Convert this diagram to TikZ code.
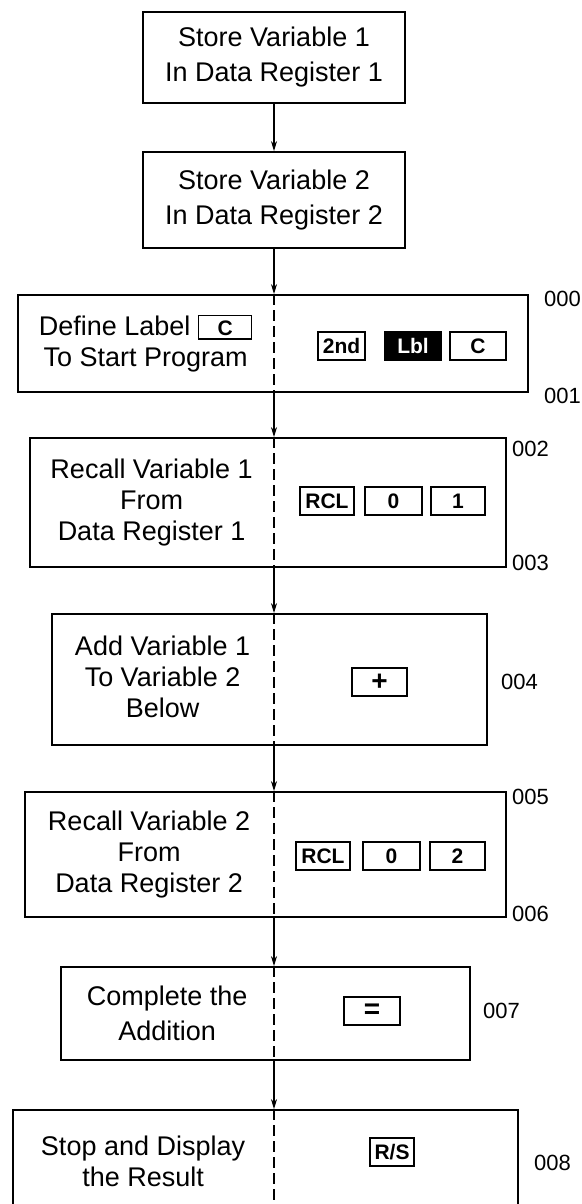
\documentclass[tikz,border=0pt]{standalone}
\usepackage{fontspec}
\setmainfont{Liberation Sans}
\usetikzlibrary{arrows.meta,calc}

% inline key cap used inside running text
\newcommand{\inlinekey}[1]{{\setlength{\fboxrule}{1.2pt}\setlength{\fboxsep}{0pt}%
  \raisebox{-3pt}{\fbox{\rule[0pt]{0pt}{22pt}\makebox[52pt]{\raisebox{3pt}{\fontsize{21}{21}\bfseries #1}}}}}}

\begin{document}
\begin{tikzpicture}[x=1pt,y=-1pt,
  box/.style={draw, line width=1.8pt, inner sep=0pt},
  txt/.style={align=center, inner sep=0pt, font=\fontsize{27}{31}\selectfont},
  wide/.style={font=\fontsize{27}{35}\selectfont},
  keycap/.style={draw, line width=1.2pt, inner sep=0pt, minimum height=28pt,
                 font=\fontsize{21}{21}\bfseries\selectfont},
  blackkey/.style={keycap, fill=black, text=white},
  bigsign/.style={font=\fontsize{28}{28}\bfseries\selectfont},
  num/.style={anchor=west, inner sep=0pt, font=\fontsize{22}{22}\selectfont},
  flow/.style={line width=1.3pt, -{Stealth[length=10pt,width=6pt]}},
  split/.style={line width=1.3pt, dash pattern=on 11pt off 5pt}
]
\useasboundingbox (0,0) rectangle (581,1204);
\fill[white] (0,0) rectangle (581,1204);

\coordinate (spine) at (274,0);

% boxes
\node[box, txt, wide, minimum width=262pt, minimum height=91pt] (b1) at (274,57.5)
  {Store Variable 1\\In Data Register 1};
\node[box, txt, wide, minimum width=262pt, minimum height=96pt] (b2) at (274,200)
  {Store Variable 2\\In Data Register 2};
\node[box, minimum width=510pt, minimum height=97pt]  (b3) at (273,343.5) {};
\node[box, minimum width=476pt, minimum height=129pt] (b4) at (268,502.5) {};
\node[box, minimum width=435pt, minimum height=131pt] (b5) at (269.5,679.5) {};
\node[box, minimum width=481pt, minimum height=125pt] (b6) at (265.5,854.5) {};
\node[box, minimum width=409pt, minimum height=93pt]  (b7) at (265.5,1013.5) {};
\node[box, minimum width=505pt, minimum height=105pt] (b8) at (265.5,1162.5) {};

% dashed split lines
\foreach \b in {b3,b4,b5,b6,b7,b8}
  \draw[split] (\b.north -| spine) -- (\b.south -| spine);

% connectors
\draw[flow] (b1.south) -- (b2.north);
\draw[flow] (b2.south -| spine) -- (b3.north -| spine);
\draw[flow] (b3.south -| spine) -- (b4.north -| spine);
\draw[flow] (b4.south -| spine) -- (b5.north -| spine);
\draw[flow] (b5.south -| spine) -- (b6.north -| spine);
\draw[flow] (b6.south -| spine) -- (b7.north -| spine);
\draw[flow] (b7.south -| spine) -- (b8.north -| spine);

% left-hand descriptions
\node[txt] (t3) at ($(b3.west)!0.5!(b3.center -| spine)$) {Define Label \inlinekey{C}\\To Start Program};
\node[txt] (t4) at ($(b4.west)!0.5!(b4.center -| spine)$) {Recall Variable 1\\From\\Data Register 1};
\node[txt] (t5) at ($(b5.west)!0.5!(b5.center -| spine)+(0,-3)$) {Add Variable 1\\To Variable 2\\Below};
\node[txt] (t6) at ($(b6.west)!0.5!(b6.center -| spine)$) {Recall Variable 2\\From\\Data Register 2};
\node[txt, wide] (t7) at ($(b7.west)!0.5!(b7.center -| spine)$) {Complete the\\Addition};
\node[txt] (t8) at ($(b8.west)!0.5!(b8.center -| spine)+(0,-1)$) {Stop and Display\\the Result};

% key sequences
\node[keycap, minimum width=47pt] (k31) at (341.5,346) {2nd};
\node[blackkey, minimum width=56pt] (k32) at (413,346) {Lbl};
\node[keycap, minimum width=56pt] (k33) at (478,346) {C};

\node[keycap, minimum width=54pt] (k41) at (327,501) {RCL};
\node[keycap, minimum width=57pt] (k42) at (393.5,501) {0};
\node[keycap, minimum width=54pt] (k43) at (458,501) {1};

\node[keycap, bigsign, minimum width=55pt] (k51) at (379.5,682) {+};

\node[keycap, minimum width=54pt] (k61) at (323,856) {RCL};
\node[keycap, minimum width=57pt] (k62) at (391.5,856) {0};
\node[keycap, minimum width=55pt] (k63) at (457.5,856) {2};

\node[keycap, bigsign, minimum width=56pt] (k71) at (372,1011) {=};

\node[keycap, minimum width=44pt] (k81) at (392,1152) {R/S};

% step numbers
\node[num] (n000) at ($(b3.north east)+(15,5)$) {000};
\node[num] (n001) at ($(b3.south east)+(15,3)$) {001};
\node[num] (n002) at ($(b4.north east)+(5,12)$) {002};
\node[num] (n003) at ($(b4.south east)+(5,-5)$) {003};
\node[num] (n004) at ($(b5.east)+(13,2)$) {004};
\node[num] (n005) at ($(b6.north east)+(5,6)$) {005};
\node[num] (n006) at ($(b6.south east)+(5,-4)$) {006};
\node[num] (n007) at ($(b7.east)+(12,-3)$) {007};
\node[num] (n008) at ($(b8.east)+(15,0)$) {008};
\end{tikzpicture}
\end{document}
